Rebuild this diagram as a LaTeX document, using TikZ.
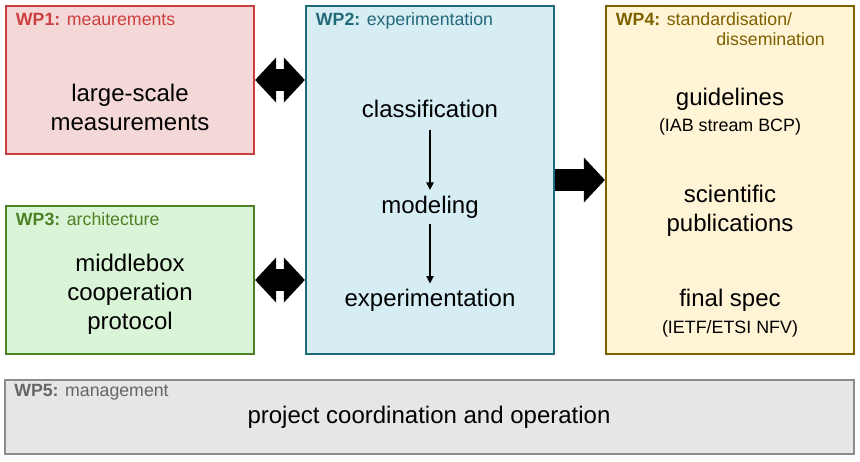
\documentclass[tikz,border=0pt]{standalone}
\usepackage{fontspec}
\setmainfont{Liberation Sans}
\usetikzlibrary{arrows.meta}
\definecolor{wpAd}{HTML}{CC4040}\definecolor{wpAf}{HTML}{F4D7D7}
\definecolor{wpBd}{HTML}{22697A}\definecolor{wpBf}{HTML}{D6EDF4}
\definecolor{wpCd}{HTML}{4E8125}\definecolor{wpCf}{HTML}{D9F4D7}
\definecolor{wpDd}{HTML}{7F6000}\definecolor{wpDf}{HTML}{FFF5D6}
\definecolor{wpEd}{HTML}{8C8C8C}\definecolor{wpEf}{HTML}{E6E6E6}
\definecolor{wpEt}{HTML}{666666}
\newcommand\wpsub{\fontsize{13.4}{15}\selectfont}
\begin{document}
\begin{tikzpicture}[x=0.75pt,y=-0.75pt,
  wpbox/.style={draw, line width=1.7pt, inner sep=0pt, minimum width=186pt},
  wptitle/.style={font=\fontsize{13.3}{15}\selectfont, inner sep=0pt, anchor=base west},
  maintext/.style={font=\fontsize{18}{22}\selectfont, align=center, inner sep=0pt},
  stepnode/.style={maintext, outer sep=4.5pt},
  smallarrow/.style={line width=0.9pt, -{Triangle[length=5.5pt,width=5.5pt]}},
  bigline/.style={line width=16.5pt, draw=black},
  bighead/.tip={Triangle[length=15.75pt,width=33.75pt,line width=0pt]}
]
\path[use as bounding box] (0,0) rectangle (860,461);

% boxes
\node[wpbox, draw=wpAd, fill=wpAf, minimum height=111pt] (wp1) at (130,80) {};
\node[wpbox, draw=wpBd, fill=wpBf, minimum height=261pt] (wp2) at (430,180) {};
\node[wpbox, draw=wpCd, fill=wpCf, minimum height=111pt] (wp3) at (130,280) {};
\node[wpbox, draw=wpDd, fill=wpDf, minimum height=261pt] (wp4) at (730,180) {};
\node[wpbox, draw=wpEd, fill=wpEf, line width=1.5pt, minimum width=636.75pt, minimum height=55.5pt] (wp5) at (429.5,416.5) {};

% titles
\node[wptitle, text=wpAd] (t1) at (15.7,25) {\textbf{WP1:} meaurements};
\node[wptitle, text=wpBd] (t2) at (315.7,25) {\textbf{WP2:} experimentation};
\node[wptitle, text=wpCd] (t3) at (15.7,225) {\textbf{WP3:} architecture};
\node[wptitle, text=wpDd, anchor=north west, align=left] (t4) at (615.7,12.4)
  {\textbf{WP4:} standardisation/\\\hspace*{75.3pt}dissemination};
\node[wptitle, text=wpEt] (t5) at (14,396.7) {\textbf{WP5:} management};

% contents
\node[maintext] (m1) at (130,107.3) {large-scale\\measurements};
\node[maintext] (m3) at (130,294.2) {middlebox\\cooperation\\protocol};
\node[stepnode] (cls) at (430,109.2) {classification};
\node[stepnode] (mod) at (430,207) {modeling};
\node[stepnode] (exp) at (430,300.6) {experimentation};
\node[maintext] (gl) at (730,111.6) {guidelines\\[-3pt]{\wpsub (IAB stream BCP)}};
\node[maintext] (sp) at (730,210.9) {scientific\\publications};
\node[maintext] (fs) at (730,313.1) {final spec\\[-2.3pt]{\wpsub (IETF/ETSI NFV)}};
\node[maintext] (m5) at (429,417.2) {project coordination and operation};

% small arrows
\draw[smallarrow, shorten <=4.5pt] (cls) -- (mod);
\draw[smallarrow] (mod) -- (exp);

% big arrows
\draw[bigline, bighead-bighead] (wp1.east |- 0,80) -- (wp2.west |- 0,80);
\draw[bigline, bighead-bighead] (wp3.east |- 0,280) -- (wp2.west |- 0,280);
\draw[bigline, -bighead] (wp2.east |- 0,180) -- (wp4.west |- 0,180);
\end{tikzpicture}
\end{document}
